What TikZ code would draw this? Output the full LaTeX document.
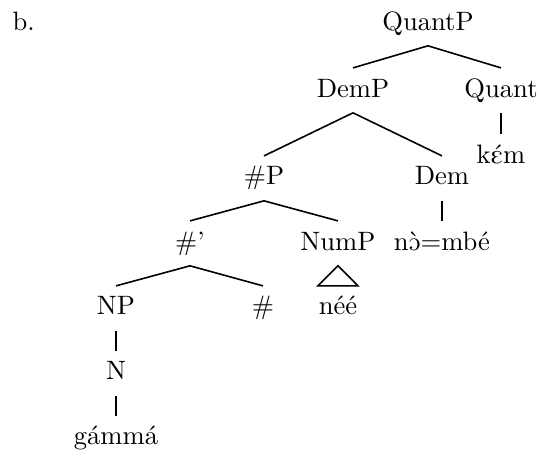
\documentclass[tikz,border=0pt]{standalone}
\usepackage{tipa}
\usetikzlibrary{calc}
\tikzstyle{lab}=[anchor=base, inner xsep=1pt, inner ysep=3.75pt,
                 text height=7pt, text depth=2pt]
\tikzstyle{br}=[line width=0.6pt]

\begin{document}
\begin{tikzpicture}[x=0.376pt, y=-0.376pt]
    \useasboundingbox (0,0) rectangle (540,454);
    \node[anchor=base west, inner sep=0pt] (ex) at (12,30) {b.};
    \node[lab] (quantp) at (428,30)  {QuantP};
    \node[lab] (demp)   at (353,97)  {DemP};
    \node[lab] (quant)  at (501,97)  {Quant};
    \node[lab] (kem)    at (501,163) {\textipa{k\'Em}};
    \node[lab] (nump2)  at (264,185) {\#P};
    \node[lab] (dem)    at (442,185) {Dem};
    \node[lab] (numb)   at (190,250) {\#'};
    \node[lab] (nump)   at (338,250) {NumP};
    \node[lab] (nombe)  at (442,250) {n\textipa{\`O}=mb\'e};
    \node[lab] (np)     at (116,315) {NP};
    \node[lab] (num)    at (263,315) {\#};
    \node[lab] (nee)    at (338,315) {n\'e\'e};
    \node[lab] (n)      at (116,380) {N};
    \node[lab] (gamma)  at (116,445) {g\'amm\'a};
    \draw[br] (quantp.south)--(demp.north); \draw[br] (quantp.south)--(quant.north);
    \draw[br] (quant.south)--(kem.north);
    \draw[br] (demp.south)--(nump2.north); \draw[br] (demp.south)--(dem.north);
    \draw[br] (dem.south)--(nombe.north);
    \draw[br] (nump2.south)--(numb.north); \draw[br] (nump2.south)--(nump.north);
    \draw[br] (numb.south)--(np.north); \draw[br] (numb.south)--(num.north);
    \draw[br] (nump.south)--($(nee.north)+(-20,0)$)--($(nee.north)+(20,0)$)--cycle;
    \draw[br] (np.south)--(n.north); \draw[br] (n.south)--(gamma.north);
  \end{tikzpicture}
\end{document}
